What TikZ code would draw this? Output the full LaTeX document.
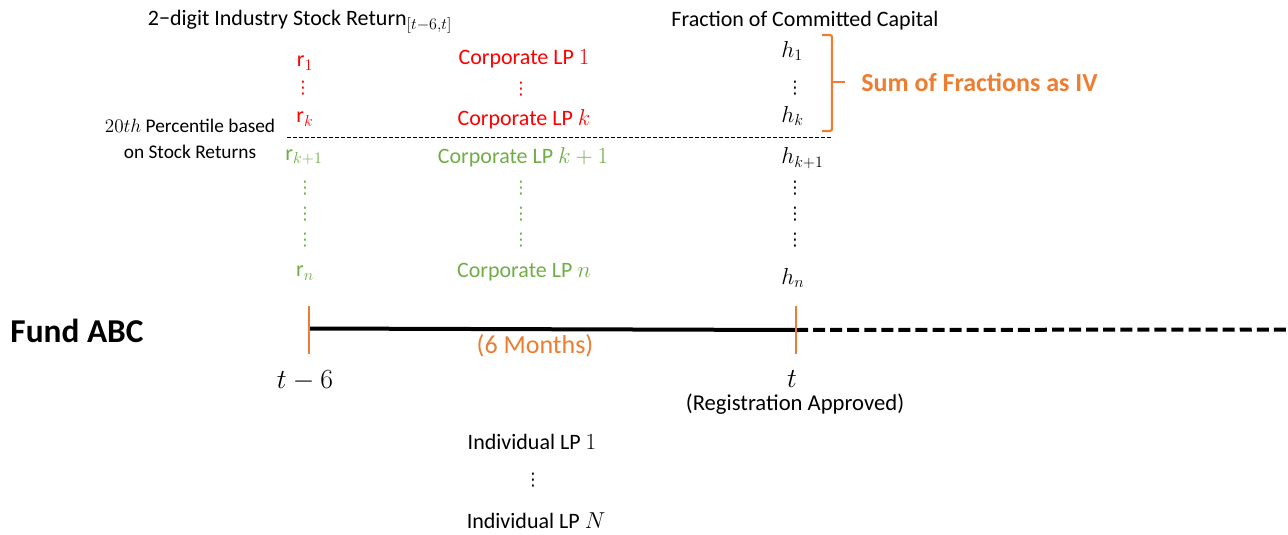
\documentclass[tikz,border=0pt]{standalone}
\usepackage{fontspec}
\setmainfont{Carlito}
\newfontfamily\dejavu{DejaVu Sans}
\newcommand{\vdt}{{\dejavu\fontsize{13}{15}\selectfont ⋮}}
\definecolor{lpred}{HTML}{FF0000}
\definecolor{lpgreen}{HTML}{70AD47}
\definecolor{lporange}{HTML}{ED7D31}
\begin{document}
\begin{tikzpicture}[x=0.75pt,y=-0.75pt,
  txt/.style={inner sep=0pt,font=\fontsize{16.5}{20}\selectfont},
  redt/.style={txt,text=lpred},
  greent/.style={txt,text=lpgreen},
  tick/.style={draw=lporange,line width=1.6pt},
  tline/.style={line width=3pt,black}]
\useasboundingbox (0,0) rectangle (1288,535);
% headers
\node[txt] (hdr) at (300,22) {2−digit Industry Stock Return$_{\mathstrut[t-6,t]}$};
\node[txt] (frac) at (805,21) {Fraction of Committed Capital};
\node[txt,align=center,font=\fontsize{14.5}{18}\selectfont] (pct) at (190,139) {$20th$ Percentile based\\[1pt]on Stock Returns};
% r column
\node[redt] (r1) at (305,63) {r$_1$};
\node[redt] (rd) at (303,88) {\vdt};
\node[redt] (rk) at (305,119) {r$_k$};
\node[greent] (rk1) at (304,157) {r$_{k+1}$};
\node[greent] (rd1) at (305,188) {\vdt};
\node[greent] (rd2) at (305,214) {\vdt};
\node[greent] (rd3) at (305,240) {\vdt};
\node[greent] (rn) at (305,273) {r$_n$};
% corporate column
\node[redt] (c1) at (524,59) {Corporate LP $1$};
\node[redt] (cd) at (521,89) {\vdt};
\node[redt] (ck) at (524,119) {Corporate LP $k$};
\node[greent] (ck1) at (523,157) {Corporate LP $k+1$};
\node[greent] (cd1) at (521,188) {\vdt};
\node[greent] (cd2) at (521,214) {\vdt};
\node[greent] (cd3) at (521,240) {\vdt};
\node[greent] (cn) at (524,272) {Corporate LP $n$};
% h column
\node[txt,anchor=west] (h1) at (781,51) {$h_1$};
\node[txt] (hd) at (795,88) {\vdt};
\node[txt,anchor=west] (hk) at (781,116) {$h_k$};
\node[txt,anchor=west] (hk1) at (781,158) {$h_{k+1}$};
\node[txt] (hd1) at (795,188) {\vdt};
\node[txt] (hd2) at (795,214) {\vdt};
\node[txt] (hd3) at (795,240) {\vdt};
\node[txt,anchor=west] (hn) at (781,278) {$h_n$};
% brace
\coordinate (bt) at (822,35);
\coordinate (bb) at (822,131);
\coordinate (bm) at (832,82);
\node[txt,font=\fontsize{19.5}{22}\selectfont\bfseries,text=lporange,anchor=west] (iv) at (861,82) {Sum of Fractions as IV};
\draw[lporange,line width=1.6pt,rounded corners=1.5pt] (bt) -- ++(10,0) |- (bb);
\draw[lporange,line width=1.6pt] (bm) -- ++(13,0);
% separator
\coordinate (sepL) at (287,137);
\coordinate (sepR) at (833,137);
\draw[line width=0.75pt,dash pattern=on 3pt off 1.5pt] (sepL) -- (sepR);
% timeline
\node[txt,font=\fontsize{25}{28}\selectfont\bfseries] (fund) at (77,331) {Fund ABC};
\coordinate (a) at (309,328.5);
\coordinate (b) at (796,330);
\coordinate (e) at (1288,329.5);
\draw[tline] (a) -- (b);
\draw[tline,dash pattern=on 9pt off 3.8pt] (b) -- (e);
\coordinate (a1) at (309,306);
\coordinate (a2) at (309,354);
\coordinate (b1) at (796,306);
\coordinate (b2) at (796,354);
\draw[tick] (a1) -- (a2);
\draw[tick] (b1) -- (b2);
\node[txt,font=\fontsize{19.5}{22}\selectfont,text=lporange] (six) at (535,346) {(6 Months)};
\node[txt,font=\fontsize{21}{24}\selectfont] (tm6) at (305,381) {$t-6$};
\node[txt,font=\fontsize{21}{24}\selectfont] (t) at (792,379) {$t$};
\node[txt,font=\fontsize{17}{20}\selectfont] (reg) at (795,404) {(Registration Approved)};
% individual LPs
\node[txt] (i1) at (532,442) {Individual LP $1$};
\node[txt] (id) at (533,480) {\vdt};
\node[txt] (iN) at (536,521) {Individual LP $N$};
\end{tikzpicture}
\end{document}
